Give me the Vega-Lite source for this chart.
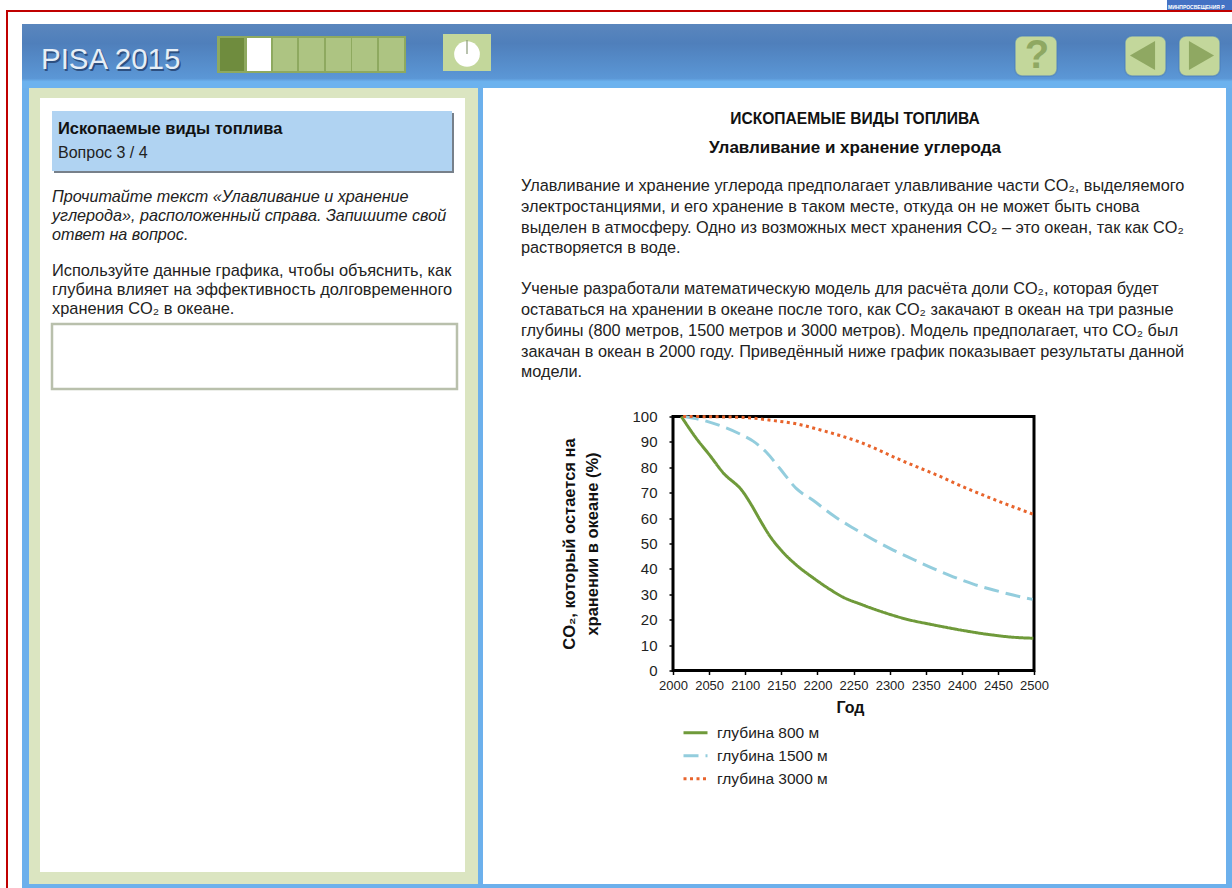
{"$schema":"https://vega.github.io/schema/vega-lite/v6.json","width":361,"height":254,"autosize":{"type":"none"},"padding":{"left":673,"top":416.5,"right":198,"bottom":217.5},"background":"#ffffff","config":{"view":{"stroke":null},"font":"Liberation Sans"},
"datasets":{
"backdrop":[
{"part":"frameRed","year":1076.18,"year2":2774.24,"pct":260.04,"pct2":259.25},
{"part":"frameRed","year":1076.18,"year2":1078.95,"pct":260.04,"pct2":-85.63},
{"part":"logo","year":2684.21,"year2":2774.24,"pct":263.98,"pct2":260.04},
{"part":"appBlue","year":1098.34,"year2":2774.24,"pct":229.72,"pct2":-85.63}],
"header":[{"year":1098.34,"year2":2774.24,"pct":254.53,"pct2":229.33}],
"panels":[
{"part":"sage","year":1108.03,"year2":1729.92,"pct":229.33,"pct2":-84.06},
{"part":"white","year":1123.27,"year2":1711.91,"pct":225.39,"pct2":-79.33},
{"part":"white","year":1736.84,"year2":2765.93,"pct":229.33,"pct2":-84.06},
{"part":"shadow","year":1142.66,"year2":1696.68,"pct":219.49,"pct2":195.87},
{"part":"card","year":1139.89,"year2":1693.91,"pct":220.28,"pct2":196.65},
{"part":"barEdge","year":1368.42,"year2":1630.19,"pct":249.8,"pct2":235.24},
{"part":"done","year":1372.58,"year2":1405.82,"pct":249.02,"pct2":236.02},
{"part":"white","year":1409.97,"year2":1443.21,"pct":249.02,"pct2":236.02},
{"part":"todo","year":1445.98,"year2":1479.22,"pct":249.02,"pct2":236.02},
{"part":"todo","year":1482,"year2":1516.62,"pct":249.02,"pct2":236.02},
{"part":"todo","year":1519.39,"year2":1554.02,"pct":249.02,"pct2":236.02},
{"part":"todo","year":1555.4,"year2":1590.03,"pct":249.02,"pct2":236.02},
{"part":"todo","year":1592.8,"year2":1627.42,"pct":249.02,"pct2":236.02},
{"part":"button","year":1681.44,"year2":1747.92,"pct":250.59,"pct2":236.02}],
"buttons":[
{"year":2473.68,"year2":2531.86,"pct":249.8,"pct2":234.06},
{"year":2626.04,"year2":2682.82,"pct":249.8,"pct2":234.06},
{"year":2700.83,"year2":2757.62,"pct":249.8,"pct2":234.06}],
"answerBox":[{"year":1139.89,"year2":1700.83,"pct":136.42,"pct2":110.83}],
"timerFace":[{"year":1714.68,"pct":242.72}],
"timerHand":[{"year":1714.68,"pct":248.23,"pct2":242.72}],
"backArrow":[{"year":2650.28,"pct":242.13}],
"nextArrow":[{"year":2731.99,"pct":242.13}],
"help":[{"line":"?","year":2504.15,"pct":241.93}],
"brand":[{"line":"PISA 2015","year":1124.65,"pct":240.35}],
"logoText":[{"line":"МИНПРОСВЕЩЕНИЯ Р","year":2685.6,"pct":261.2}],
"cardTitle":[{"line":"Ископаемые виды топлива","year":1148.2,"pct":213.19}],
"cardSub":[{"line":"Вопрос 3 / 4","year":1148.2,"pct":203.74}],
"leftItalic":[
{"line":"Прочитайте текст «Улавливание и хранение","year":1139.89,"pct":186.42},
{"line":"углерода», расположенный справа. Запишите свой","year":1139.89,"pct":178.94},
{"line":"ответ на вопрос.","year":1139.89,"pct":171.46}],
"leftBody":[
{"line":"Используйте данные графика, чтобы объяснить, как","year":1139.89,"pct":157.28},
{"line":"глубина влияет на эффективность долговременного","year":1139.89,"pct":149.8},
{"line":"хранения CO₂ в океане.","year":1139.89,"pct":142.32}],
"headingOne":[{"line":"ИСКОПАЕМЫЕ ВИДЫ ТОПЛИВА","year":2252.08,"pct":217.13}],
"headingTwo":[{"line":"Улавливание и хранение углерода","year":2252.08,"pct":205.71}],
"rightBody":[
{"line":"Улавливание и хранение углерода предполагает улавливание части CO₂, выделяемого","year":1789.47,"pct":190.75},
{"line":"электростанциями, и его хранение в таком месте, откуда он не может быть снова","year":1789.47,"pct":182.48},
{"line":"выделен в атмосферу. Одно из возможных мест хранения CO₂ – это океан, так как CO₂","year":1789.47,"pct":174.21},
{"line":"растворяется в воде.","year":1789.47,"pct":166.34},
{"line":"Ученые разработали математическую модель для расчёта доли CO₂, которая будет","year":1789.47,"pct":150.2},
{"line":"оставаться на хранении в океане после того, как CO₂ закачают в океан на три разные","year":1789.47,"pct":141.93},
{"line":"глубины (800 метров, 1500 метров и 3000 метров). Модель предполагает, что CO₂ был","year":1789.47,"pct":133.66},
{"line":"закачан в океан в 2000 году. Приведённый ниже график показывает результаты данной","year":1789.47,"pct":125.39},
{"line":"модели.","year":1789.47,"pct":117.52}],
"plotFrame":[{"year":2000,"year2":2500,"pct":0,"pct2":100}],
"curves":[
{"series":"  глубина 800 м","year":2011.5,"pct":100},{"series":"  глубина 800 м","year":2032,"pct":91.5},{"series":"  глубина 800 м","year":2051,"pct":84.7},{"series":"  глубина 800 м","year":2069,"pct":78},{"series":"  глубина 800 м","year":2097,"pct":70.3},{"series":"  глубина 800 м","year":2109,"pct":65},{"series":"  глубина 800 м","year":2120,"pct":59.5},{"series":"  глубина 800 м","year":2134,"pct":53},{"series":"  глубина 800 м","year":2152.5,"pct":46.5},{"series":"  глубина 800 м","year":2171,"pct":41.5},{"series":"  глубина 800 м","year":2194,"pct":36.5},{"series":"  глубина 800 м","year":2217,"pct":32},{"series":"  глубина 800 м","year":2236,"pct":28.8},{"series":"  глубина 800 м","year":2259,"pct":26.2},{"series":"  глубина 800 м","year":2296,"pct":22.5},{"series":"  глубина 800 м","year":2323.5,"pct":20.2},{"series":"  глубина 800 м","year":2360,"pct":18},{"series":"  глубина 800 м","year":2397,"pct":16},{"series":"  глубина 800 м","year":2434,"pct":14.3},{"series":"  глубина 800 м","year":2471,"pct":13.1},{"series":"  глубина 800 м","year":2499,"pct":12.7},
{"series":"глубина 1500 м","year":2015,"pct":100},{"series":"глубина 1500 м","year":2046,"pct":98.2},{"series":"глубина 1500 м","year":2069,"pct":96},{"series":"глубина 1500 м","year":2092,"pct":93.2},{"series":"глубина 1500 м","year":2111,"pct":90.3},{"series":"глубина 1500 м","year":2129,"pct":86},{"series":"глубина 1500 м","year":2148,"pct":79.5},{"series":"глубина 1500 м","year":2171,"pct":71.6},{"series":"глубина 1500 м","year":2194,"pct":67},{"series":"глубина 1500 м","year":2222,"pct":61},{"series":"глубина 1500 м","year":2250,"pct":56},{"series":"глубина 1500 м","year":2277,"pct":51.6},{"series":"глубина 1500 м","year":2305,"pct":47.4},{"series":"глубина 1500 м","year":2333,"pct":43.7},{"series":"глубина 1500 м","year":2360,"pct":40.2},{"series":"глубина 1500 м","year":2388,"pct":36.9},{"series":"глубина 1500 м","year":2416,"pct":34},{"series":"глубина 1500 м","year":2444,"pct":31.7},{"series":"глубина 1500 м","year":2471,"pct":29.7},{"series":"глубина 1500 м","year":2498,"pct":28},
{"series":"глубина 3000 м","year":2014,"pct":100},{"series":"глубина 3000 м","year":2092,"pct":99.7},{"series":"глубина 3000 м","year":2139,"pct":98.4},{"series":"глубина 3000 м","year":2171,"pct":97.1},{"series":"глубина 3000 м","year":2203,"pct":94.8},{"series":"глубина 3000 м","year":2231,"pct":92.5},{"series":"глубина 3000 м","year":2259,"pct":89.9},{"series":"глубина 3000 м","year":2286.5,"pct":86.6},{"series":"глубина 3000 м","year":2314,"pct":83},{"series":"глубина 3000 м","year":2342,"pct":79.7},{"series":"глубина 3000 м","year":2370,"pct":76.4},{"series":"глубина 3000 м","year":2397,"pct":72.9},{"series":"глубина 3000 м","year":2425,"pct":69.6},{"series":"глубина 3000 м","year":2453,"pct":66.4},{"series":"глубина 3000 м","year":2481,"pct":63.4},{"series":"глубина 3000 м","year":2499,"pct":61.5}]
},
"encoding":{
"x":{"field":"year","type":"quantitative","scale":{"domain":[2000,2500],"nice":false,"zero":false},"axis":{"zindex":1,"title":"Год","titleFont":"Liberation Sans","titleFontSize":16,"titleFontWeight":"bold","titleColor":"#111111","titleX":177,"titleY":29,"values":[2000,2050,2100,2150,2200,2250,2300,2350,2400,2450,2500],"format":"d","grid":false,"domain":false,"tickColor":"#000000","tickSize":4,"tickWidth":1.5,"labelFontSize":13,"labelColor":"#222222","labelPadding":5,"labelFlush":false,"labelOverlap":false}},
"y":{"field":"pct","type":"quantitative","scale":{"domain":[0,100],"nice":false,"zero":false},"axis":{"zindex":1,"title":["CO₂, который остается на","хранении в океане (%)"],"titleFont":"Liberation Sans","titleFontSize":16.5,"titleFontWeight":"bold","titleColor":"#111111","titleLineHeight":23,"titleX":-96,"titleY":127,"values":[0,10,20,30,40,50,60,70,80,90,100],"format":"d","grid":false,"domain":false,"tickColor":"#000000","tickSize":4,"tickWidth":1.5,"labelFontSize":15,"labelColor":"#222222","labelPadding":12,"labelOverlap":false,"labelFlush":false}}
},
"layer":[
{"data":{"name":"backdrop"},"mark":{"type":"rect"},"encoding":{"x2":{"field":"year2"},"y2":{"field":"pct2"},"fill":{"field":"part","type":"nominal","legend":null,"scale":{"domain":["frameRed","logo","appBlue","sage","white","shadow","card","barEdge","done","todo","button"],"range":["#c00000","#4472c4","#6cb0ec","#dbe5c1","#ffffff","#77808a","#b0d3f2","#8ea95f","#6f8c3e","#adc482","#c3d79b"]}}}},
{"data":{"name":"header"},"mark":{"type":"rect","fill":{"gradient":"linear","x1":0,"y1":0,"x2":0,"y2":1,"stops":[{"offset":0,"color":"#5a86bd"},{"offset":0.3,"color":"#4f7fbb"},{"offset":0.85,"color":"#5b97d6"},{"offset":0.9,"color":"#6cb2ee"},{"offset":1,"color":"#6cb2ee"}]}},"encoding":{"x2":{"field":"year2"},"y2":{"field":"pct2"}}},
{"data":{"name":"panels"},"mark":{"type":"rect"},"encoding":{"x2":{"field":"year2"},"y2":{"field":"pct2"},"fill":{"field":"part","type":"nominal","legend":null,"scale":{"domain":["frameRed","logo","appBlue","sage","white","shadow","card","barEdge","done","todo","button"],"range":["#c00000","#4472c4","#6cb0ec","#dbe5c1","#ffffff","#77808a","#b0d3f2","#8ea95f","#6f8c3e","#adc482","#c3d79b"]}}}},
{"data":{"name":"buttons"},"mark":{"type":"rect","fill":"#c3d79b","stroke":"#4a7dba","strokeOpacity":0.6,"strokeWidth":1.5,"cornerRadius":7},"encoding":{"x2":{"field":"year2"},"y2":{"field":"pct2"}}},
{"data":{"name":"answerBox"},"mark":{"type":"rect","fill":"#ffffff","stroke":"#b9c0ac","strokeWidth":2.5},"encoding":{"x2":{"field":"year2"},"y2":{"field":"pct2"}}},
{"data":{"name":"timerFace"},"mark":{"type":"point","shape":"circle","filled":true,"fill":"#ffffff","opacity":1,"size":660}},
{"data":{"name":"timerHand"},"mark":{"type":"rule","stroke":"#8a9a78","strokeWidth":1.2},"encoding":{"y2":{"field":"pct2"}}},
{"data":{"name":"backArrow"},"mark":{"type":"point","shape":"triangle-left","filled":true,"fill":"#8fa862","opacity":1,"size":841}},
{"data":{"name":"nextArrow"},"mark":{"type":"point","shape":"triangle-right","filled":true,"fill":"#8fa862","opacity":1,"size":841}},
{"data":{"name":"help"},"mark":{"type":"text","font":"Liberation Sans","fontWeight":"bold","fontSize":40,"fill":"#8fa862","align":"center","baseline":"middle"},"encoding":{"text":{"field":"line"}}},
{"data":{"name":"brand"},"mark":{"type":"text","font":"Liberation Sans","fontSize":29.5,"fill":"#2c4f80","align":"left","baseline":"middle","dx":1.5,"dy":1.5},"encoding":{"text":{"field":"line"}}},
{"data":{"name":"brand"},"mark":{"type":"text","font":"Liberation Sans","fontSize":29.5,"fill":"#e6eef6","align":"left","baseline":"middle"},"encoding":{"text":{"field":"line"}}},
{"data":{"name":"logoText"},"mark":{"type":"text","font":"Liberation Sans","fontWeight":"bold","fontSize":5,"fill":"#ffffff","align":"left","baseline":"middle"},"encoding":{"text":{"field":"line"}}},
{"data":{"name":"cardTitle"},"mark":{"type":"text","font":"Liberation Sans","fontWeight":"bold","fontSize":16.5,"fill":"#111111","align":"left","baseline":"middle"},"encoding":{"text":{"field":"line"}}},
{"data":{"name":"cardSub"},"mark":{"type":"text","font":"Liberation Sans","fontSize":16,"fill":"#222222","align":"left","baseline":"middle"},"encoding":{"text":{"field":"line"}}},
{"data":{"name":"leftItalic"},"mark":{"type":"text","font":"Liberation Sans","fontStyle":"italic","fontSize":16.2,"fill":"#222222","align":"left","baseline":"middle"},"encoding":{"text":{"field":"line"}}},
{"data":{"name":"leftBody"},"mark":{"type":"text","font":"Liberation Sans","fontSize":16.4,"fill":"#222222","align":"left","baseline":"middle"},"encoding":{"text":{"field":"line"}}},
{"data":{"name":"headingOne"},"mark":{"type":"text","font":"Liberation Sans","fontWeight":"bold","fontSize":15.6,"fill":"#111111","align":"center","baseline":"middle"},"encoding":{"text":{"field":"line"}}},
{"data":{"name":"headingTwo"},"mark":{"type":"text","font":"Liberation Sans","fontWeight":"bold","fontSize":17,"fill":"#111111","align":"center","baseline":"middle"},"encoding":{"text":{"field":"line"}}},
{"data":{"name":"rightBody"},"mark":{"type":"text","font":"Liberation Sans","fontSize":16.3,"fill":"#222222","align":"left","baseline":"middle"},"encoding":{"text":{"field":"line"}}},
{"data":{"name":"plotFrame"},"mark":{"type":"rect","fill":"#ffffff","stroke":"#000000","strokeWidth":3},"encoding":{"x2":{"field":"year2"},"y2":{"field":"pct2"}}},
{"data":{"name":"curves"},"mark":{"type":"line","interpolate":"monotone","strokeWidth":3,"strokeCap":"butt"},"encoding":{
"stroke":{"field":"series","type":"nominal","scale":{"domain":["  глубина 800 м","глубина 1500 м","глубина 3000 м"],"range":["#6f9a3a","#93cddd","#e8642c"]},"legend":{"orient":"none","legendX":9,"legendY":305,"title":null,"rowPadding":0,"symbolType":"stroke","symbolSize":576,"symbolStrokeWidth":3,"labelFont":"Liberation Sans","labelFontSize":15.5,"labelColor":"#222222","labelOffset":8,"clipHeight":22.5,"symbolLimit":3}},
"strokeDash":{"field":"series","type":"nominal","scale":{"domain":["  глубина 800 м","глубина 1500 м","глубина 3000 м"],"range":[[1,0],[15,7],[3,3.5]]},"legend":{"orient":"none","legendX":9,"legendY":305,"title":null}}
}}
]}
